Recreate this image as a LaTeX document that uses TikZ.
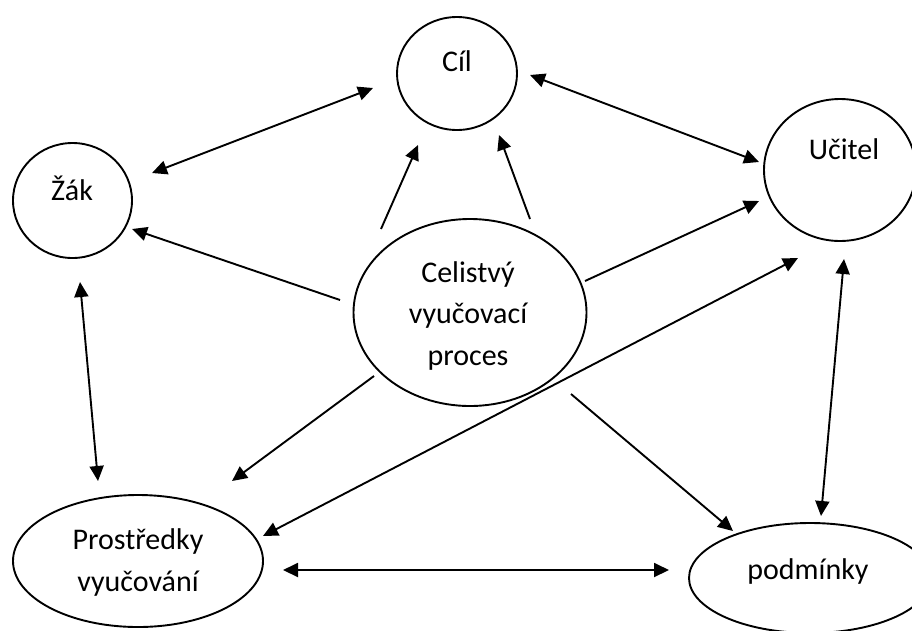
\documentclass[tikz,border=0pt]{standalone}
\usepackage{fontspec}
\setmainfont{Carlito}
\usetikzlibrary{shapes.geometric,arrows.meta}
\begin{document}
\begin{tikzpicture}[x=1pt,y=-1pt,
  ell/.style={draw=black,line width=1.9pt,ellipse,inner sep=0pt,outer sep=0pt},
  lbl/.style={anchor=base,inner sep=0pt,font=\fontsize{30}{41.5}\selectfont},
  conn/.style={line width=1.9pt,-{Triangle[length=15pt,width=14pt]}},
  bconn/.style={line width=1.9pt,{Triangle[length=15pt,width=14pt]}-{Triangle[length=15pt,width=14pt]}}]
\useasboundingbox (0,0) rectangle (912,630);
% shapes
\node[ell,minimum width=120pt,minimum height=113pt] (cil) at (457,73.5) {};
\node[ell,minimum width=119pt,minimum height=115pt] (zak) at (72.5,200.5) {};
\node[ell,minimum width=152pt,minimum height=142pt] (ucitel) at (840,170) {};
\node[ell,minimum width=233pt,minimum height=187pt] (cvp) at (470,312.5) {};
\node[ell,minimum width=250pt,minimum height=132pt] (prost) at (138,561) {};
\node[ell,minimum width=242pt,minimum height=110pt] (podm) at (810,578) {};
% texts
\node[lbl] (tcil) at (457,71) {Cíl};
\node[lbl] (tzak) at (72,200) {Žák};
\node[lbl] (tuc) at (844,159) {Učitel};
\node[lbl] (tc1) at (468,282) {Celistvý};
\node[lbl] (tc2) at (468,323.5) {vyučovací};
\node[lbl] (tc3) at (468,365) {proces};
\node[lbl] (tp1) at (138,549) {Prostředky};
\node[lbl] (tp2) at (138,591) {vyučování};
\node[lbl] (tpod) at (808,579) {podmínky};
% connector end points
\coordinate (zc1) at (152,173); \coordinate (zc2) at (373,88);
\coordinate (cu1) at (530,75);  \coordinate (cu2) at (759,162);
\coordinate (pc1) at (381,229); \coordinate (pc2) at (418,145);
\coordinate (pd1) at (530,219); \coordinate (pd2) at (499,135);
\coordinate (pz1) at (340,300); \coordinate (pz2) at (132,229);
\coordinate (pu1) at (585,281); \coordinate (pu2) at (759,201);
\coordinate (ru1) at (263,536); \coordinate (ru2) at (798,258);
\coordinate (zr1) at (80,282);  \coordinate (zr2) at (98,481);
\coordinate (pr1) at (374,376); \coordinate (pr2) at (232,481);
\coordinate (pm1) at (571,394); \coordinate (pm2) at (733,531);
\coordinate (um1) at (844,259); \coordinate (um2) at (821,516);
\coordinate (rm1) at (283,570); \coordinate (rm2) at (669,570);
% connectors
\draw[bconn] (zc1) -- (zc2);
\draw[bconn] (cu1) -- (cu2);
\draw[conn] (pc1) -- (pc2);
\draw[conn] (pd1) -- (pd2);
\draw[conn] (pz1) -- (pz2);
\draw[conn] (pu1) -- (pu2);
\draw[bconn] (ru1) -- (ru2);
\draw[bconn] (zr1) -- (zr2);
\draw[conn] (pr1) -- (pr2);
\draw[conn] (pm1) -- (pm2);
\draw[bconn] (um1) -- (um2);
\draw[bconn] (rm1) -- (rm2);
\end{tikzpicture}
\end{document}
